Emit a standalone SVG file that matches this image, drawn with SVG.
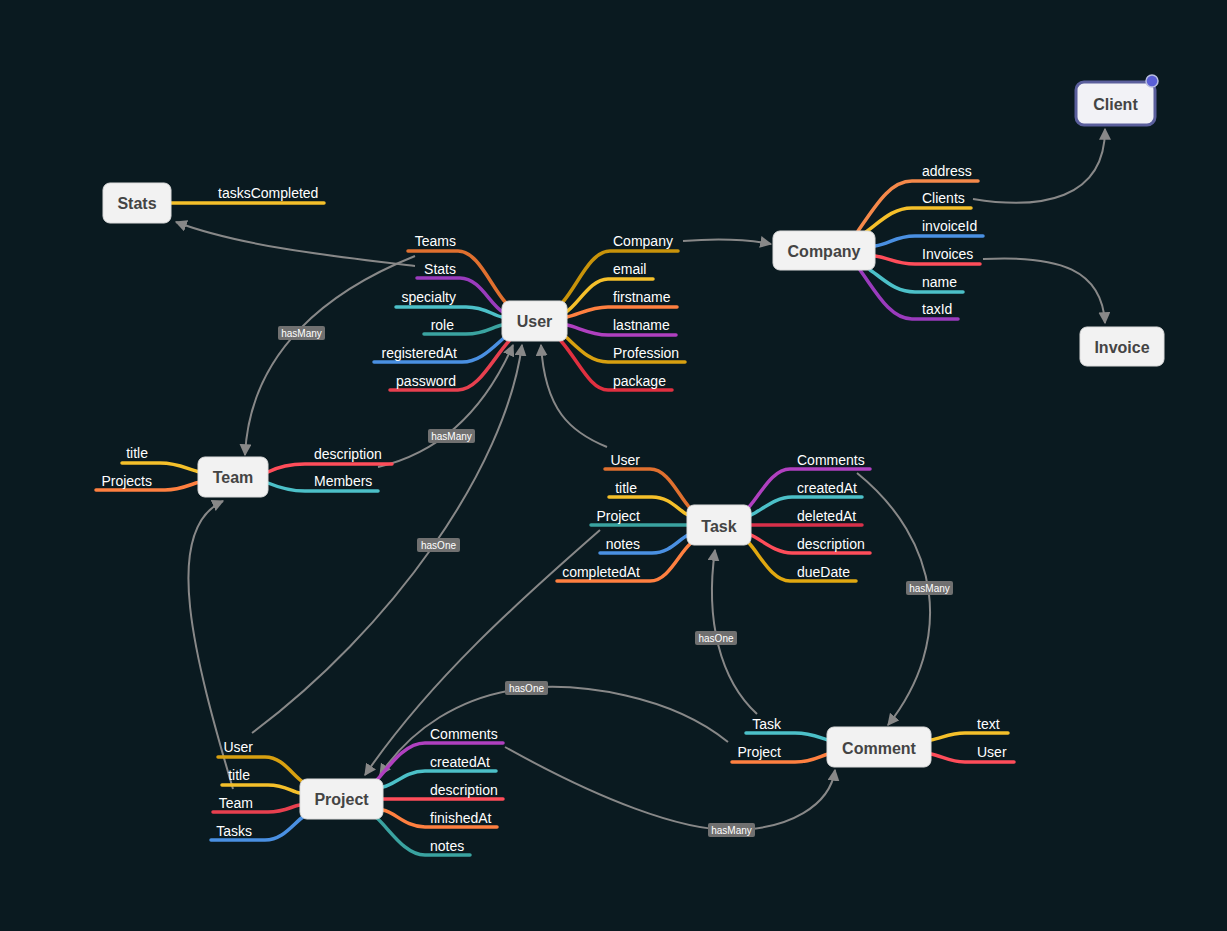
<svg xmlns="http://www.w3.org/2000/svg" width="1227" height="931" viewBox="0 0 1227 931">
<defs>
<marker id="arr" viewBox="0 0 10 10" refX="9" refY="5" markerWidth="12" markerHeight="12" markerUnits="userSpaceOnUse" orient="auto">
<path d="M0,0 L10,5 L0,10 z" fill="#888"/>
</marker>
<style>
.bg{fill:#0a1a20}
.node rect{fill:#f2f2f2;stroke:#dcdcdc;stroke-width:1}
.nt{font-family:"Liberation Sans",Arial,sans-serif;font-size:16px;font-weight:bold;fill:#444;text-anchor:middle;dominant-baseline:central}
.br{fill:none;stroke-width:3.5;stroke-linecap:round;stroke-linejoin:round}
.lb{font-family:"Liberation Sans",Arial,sans-serif;font-size:14px;fill:#fff}
.lb.e{text-anchor:end}
.con path{fill:none;stroke:#888;stroke-width:2;marker-end:url(#arr)}
.tag rect{fill:#707070}
.tag text{font-family:"Liberation Sans",Arial,sans-serif;font-size:10px;fill:#fff;text-anchor:middle;dominant-baseline:central}
</style>
</defs>
<rect class="bg" x="0" y="0" width="1227" height="931"/>

<g id="connectors" class="con">
<path d="M415,266 C330,256 240,246 176,222"/>
<path d="M415,256 C330,290 250,350 245,455"/>
<path d="M378,467 C430,455 480,420 513,345"/>
<path d="M252,733 C390,630 505,470 522,345"/>
<path d="M607,447 C570,432 545,410 541,345"/>
<path d="M683,241 C720,238 745,239 771,244"/>
<path d="M973,199 C1040,210 1105,200 1105,129"/>
<path d="M983,259 C1060,255 1102,270 1105,323"/>
<path d="M857,473 C940,540 955,640 888,725"/>
<path d="M757,714 C720,680 705,620 715,550"/>
<path d="M728,742 C670,695 580,683 527,688 C460,695 410,730 380,775"/>
<path d="M600,530 C520,600 430,680 365,775"/>
<path d="M233,789 C195,660 160,530 223,501"/>
<path d="M505,747 C600,800 680,830 731,830 C790,830 830,805 835,770"/>
</g>

<g id="labels" class="tag">
<rect x="278" y="326" width="47" height="14" rx="2"/><text x="301.5" y="333">hasMany</text>
<rect x="428" y="429" width="47" height="14" rx="2"/><text x="451.5" y="436">hasMany</text>
<rect x="417" y="538" width="43" height="14" rx="2"/><text x="438.5" y="545">hasOne</text>
<rect x="906" y="581" width="47" height="14" rx="2"/><text x="929.5" y="588">hasMany</text>
<rect x="695" y="631" width="42" height="14" rx="2"/><text x="716" y="638">hasOne</text>
<rect x="505" y="681" width="43" height="14" rx="2"/><text x="526.5" y="688">hasOne</text>
<rect x="708" y="823" width="47" height="14" rx="2"/><text x="731.5" y="830">hasMany</text>
</g>

<g id="user">
<path class="br" stroke="#e0702f" d="M408,251 H458 C478,251 490,285 506,303"/>
<path class="br" stroke="#9a3bbd" d="M417,278 H460 C480,278 490,305 503,312"/>
<path class="br" stroke="#4cc0c8" d="M396,307 H466 C485,307 492,315 502,317"/>
<path class="br" stroke="#3aa3a0" d="M424,334 H466 C485,334 492,327 502,325"/>
<path class="br" stroke="#4a90e2" d="M374,362 H462 C480,362 492,348 505,337"/>
<path class="br" stroke="#e8404f" d="M390,390 H458 C478,390 492,360 509,341"/>
<path class="br" stroke="#c8930a" d="M678,251 H610 C590,251 578,285 562,303"/>
<path class="br" stroke="#f5c02a" d="M653,279 H608 C590,279 578,305 566,312"/>
<path class="br" stroke="#ff8040" d="M677,307 H608 C590,307 578,315 567,317"/>
<path class="br" stroke="#b040c0" d="M676,335 H608 C590,335 578,327 567,325"/>
<path class="br" stroke="#d8a010" d="M685,362 H608 C590,362 578,348 566,337"/>
<path class="br" stroke="#e03040" d="M672,390 H608 C590,390 578,360 561,341"/>
<text class="lb e" x="456" y="246">Teams</text>
<text class="lb e" x="456" y="274">Stats</text>
<text class="lb e" x="456" y="302">specialty</text>
<text class="lb e" x="454" y="330">role</text>
<text class="lb e" x="457" y="358">registeredAt</text>
<text class="lb e" x="456" y="386">password</text>
<text class="lb" x="613" y="246">Company</text>
<text class="lb" x="613" y="274">email</text>
<text class="lb" x="613" y="302">firstname</text>
<text class="lb" x="613" y="330">lastname</text>
<text class="lb" x="613" y="358">Profession</text>
<text class="lb" x="613" y="386">package</text>
<g class="node"><rect x="502" y="301" width="65" height="40" rx="7"/></g>
<text class="nt" x="534.5" y="321">User</text>
</g>

<g id="company">
<path class="br" stroke="#f5894a" d="M978,181 H912 C890,181 876,205 858,231"/>
<path class="br" stroke="#f5c02a" d="M971,208 H912 C892,208 880,222 866,232"/>
<path class="br" stroke="#4a90e2" d="M983,236 H915 C895,236 890,244 875,246"/>
<path class="br" stroke="#ff4d5a" d="M980,264 H915 C895,264 890,258 875,256"/>
<path class="br" stroke="#4cc0c8" d="M963,292 H915 C895,292 885,280 870,270"/>
<path class="br" stroke="#9a3bbd" d="M958,319 H912 C890,319 876,292 860,270"/>
<text class="lb" x="922" y="176">address</text>
<text class="lb" x="922" y="203">Clients</text>
<text class="lb" x="922" y="231">invoiceId</text>
<text class="lb" x="922" y="259">Invoices</text>
<text class="lb" x="922" y="287">name</text>
<text class="lb" x="922" y="314">taxId</text>
<g class="node"><rect x="773" y="231" width="102" height="39" rx="7"/></g>
<text class="nt" x="824" y="251">Company</text>
</g>

<g id="client">
<rect x="1076" y="82" width="79" height="43" rx="8" fill="#f2f2f6" stroke="#5b5f9c" stroke-width="3"/>
<circle cx="1152" cy="81" r="6" fill="#5a5fd6" stroke="#b8bde0" stroke-width="1.5"/>
<text class="nt" x="1115.5" y="104">Client</text>
</g>

<g id="invoice">
<g class="node"><rect x="1080" y="327" width="84" height="39" rx="7"/></g>
<text class="nt" x="1122" y="347">Invoice</text>
</g>

<g id="stats">
<path class="br" stroke="#f5c02a" d="M171,203 H324"/>
<text class="lb" x="218" y="198">tasksCompleted</text>
<g class="node"><rect x="103" y="183" width="68" height="40" rx="7"/></g>
<text class="nt" x="137" y="203">Stats</text>
</g>

<g id="team">
<path class="br" stroke="#f5c02a" d="M122,463 H160 C180,463 188,470 200,472"/>
<path class="br" stroke="#ff8040" d="M96,490 H165 C182,490 190,484 200,482"/>
<path class="br" stroke="#ff4d5a" d="M268,472 C280,466 290,464 305,464 H392"/>
<path class="br" stroke="#4cc0c8" d="M268,483 C280,488 290,491 305,491 H378"/>
<text class="lb e" x="148" y="458">title</text>
<text class="lb e" x="152" y="486">Projects</text>
<text class="lb" x="314" y="459">description</text>
<text class="lb" x="314" y="486">Members</text>
<g class="node"><rect x="198" y="457" width="70" height="40" rx="7"/></g>
<text class="nt" x="233" y="477">Team</text>
</g>

<g id="task">
<path class="br" stroke="#e0702f" d="M605,469 H650 C668,469 678,495 690,508"/>
<path class="br" stroke="#f5c02a" d="M609,497 H652 C670,497 678,510 688,515"/>
<path class="br" stroke="#3aa3a0" d="M591,525 H687"/>
<path class="br" stroke="#4a90e2" d="M600,553 H652 C670,553 678,540 688,535"/>
<path class="br" stroke="#ff8040" d="M557,581 H650 C668,581 678,555 690,544"/>
<path class="br" stroke="#b040c0" d="M870,469 H790 C772,469 760,495 749,507"/>
<path class="br" stroke="#4cc0c8" d="M862,497 H792 C775,497 762,510 751,515"/>
<path class="br" stroke="#d8304a" d="M862,525 H751"/>
<path class="br" stroke="#ff4d5a" d="M870,553 H792 C775,553 762,540 751,535"/>
<path class="br" stroke="#e0a810" d="M856,581 H790 C772,581 760,555 749,543"/>
<text class="lb e" x="640" y="465">User</text>
<text class="lb e" x="637" y="493">title</text>
<text class="lb e" x="640" y="521">Project</text>
<text class="lb e" x="640" y="549">notes</text>
<text class="lb e" x="640" y="577">completedAt</text>
<text class="lb" x="797" y="465">Comments</text>
<text class="lb" x="797" y="493">createdAt</text>
<text class="lb" x="797" y="521">deletedAt</text>
<text class="lb" x="797" y="549">description</text>
<text class="lb" x="797" y="577">dueDate</text>
<g class="node"><rect x="687" y="505" width="64" height="40" rx="7"/></g>
<text class="nt" x="719" y="526">Task</text>
</g>

<g id="project">
<path class="br" stroke="#d8a010" d="M218,757 H265 C283,757 292,775 303,782"/>
<path class="br" stroke="#f5c02a" d="M222,785 H268 C285,785 292,792 300,793"/>
<path class="br" stroke="#e8404f" d="M213,812 H268 C285,812 292,806 300,805"/>
<path class="br" stroke="#4a90e2" d="M211,840 H265 C283,840 292,825 304,816"/>
<path class="br" stroke="#b040c0" d="M503,743 H425 C405,743 390,765 377,780"/>
<path class="br" stroke="#4cc0c8" d="M496,771 H425 C405,771 395,785 383,787"/>
<path class="br" stroke="#ff4d5a" d="M383,799 H503"/>
<path class="br" stroke="#ff8040" d="M497,827 H425 C405,827 395,812 383,810"/>
<path class="br" stroke="#3aa3a0" d="M470,855 H425 C405,855 390,830 377,818"/>
<text class="lb e" x="253" y="752">User</text>
<text class="lb e" x="250" y="780">title</text>
<text class="lb e" x="253" y="808">Team</text>
<text class="lb e" x="252" y="836">Tasks</text>
<text class="lb" x="430" y="739">Comments</text>
<text class="lb" x="430" y="767">createdAt</text>
<text class="lb" x="430" y="795">description</text>
<text class="lb" x="430" y="823">finishedAt</text>
<text class="lb" x="430" y="851">notes</text>
<g class="node"><rect x="300" y="779" width="83" height="40" rx="7"/></g>
<text class="nt" x="341.5" y="799">Project</text>
</g>

<g id="comment">
<path class="br" stroke="#4cc0c8" d="M746,733 H795 C812,733 820,738 828,740"/>
<path class="br" stroke="#ff8040" d="M732,762 H795 C812,762 820,756 828,754"/>
<path class="br" stroke="#f5c02a" d="M1008,733 H965 C950,733 942,738 931,740"/>
<path class="br" stroke="#ff4d5a" d="M1014,762 H965 C950,762 942,756 931,754"/>
<text class="lb e" x="781" y="729">Task</text>
<text class="lb e" x="781" y="757">Project</text>
<text class="lb" x="977" y="729">text</text>
<text class="lb" x="977" y="757">User</text>
<g class="node"><rect x="827" y="727" width="104" height="40" rx="7"/></g>
<text class="nt" x="879" y="748">Comment</text>
</g>
</svg>
